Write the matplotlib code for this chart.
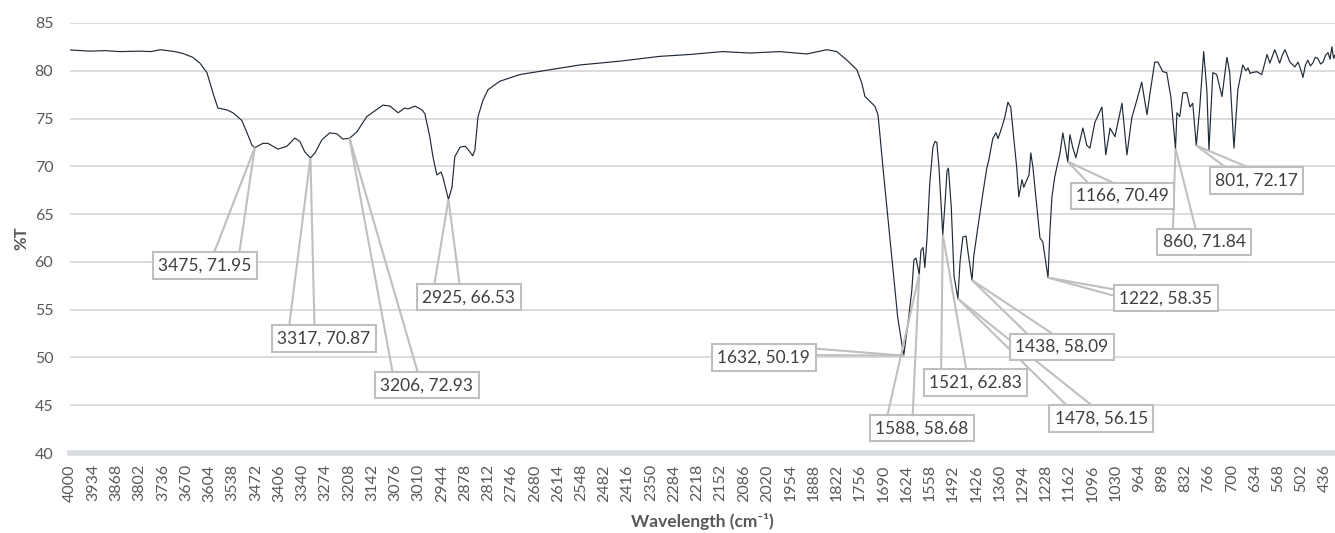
import matplotlib.pyplot as plt

plt.rcParams['font.family'] = ['Lato', 'DejaVu Sans']

# spectrum (wavenumber cm-1, %T)
wavenumber = [4000, 3943, 3900, 3858, 3801, 3770, 3744, 3702, 3679, 3651, 3631, 3611, 3594, 3580, 3554, 3537,
              3512, 3497, 3483, 3475, 3452, 3438, 3409, 3384, 3361, 3347, 3333, 3317, 3304, 3284,
              3262, 3242, 3225, 3206, 3185, 3157, 3111, 3091, 3068, 3049, 3040, 3020, 3000, 2992,
              2978, 2969, 2958, 2946, 2941, 2925, 2915, 2907, 2892, 2878, 2870, 2856, 2850, 2841,
              2827, 2813, 2779, 2722, 2637, 2552, 2438, 2325, 2239, 2146, 2069, 1984, 1907, 1850,
              1822, 1793, 1765, 1751, 1742, 1728, 1714, 1705, 1700, 1691, 1677, 1663, 1649, 1632,
              1620, 1609, 1603, 1597, 1588, 1583, 1577, 1572, 1566, 1558, 1549, 1543, 1538, 1532,
              1521, 1514, 1509, 1505, 1497, 1489, 1478, 1472, 1464, 1455, 1450, 1438, 1433, 1421,
              1407, 1396, 1390, 1379, 1370, 1364, 1353, 1345, 1336, 1328, 1319, 1311, 1305, 1296,
              1291, 1282, 1276, 1271, 1265, 1254, 1245, 1237, 1222, 1217, 1211, 1203, 1188, 1180,
              1166, 1160, 1152, 1143, 1123, 1112, 1103, 1089, 1069, 1058, 1046, 1032, 1012, 998,
              984, 970, 956, 941, 933, 919, 910, 896, 885, 873, 860, 856, 848, 839, 828, 819, 811,
              801, 791, 780, 771, 765, 754, 743, 728, 714, 706, 694, 683, 669, 660, 654, 648, 643, 629, 615,
              600, 592, 578, 564, 557, 549, 535, 521, 512, 505, 498, 491, 484, 477, 470, 463, 456, 448,
              441, 434, 427, 421, 416, 411, 407]
transmittance = [82.17, 82.05, 82.1, 82.0, 82.05, 82.0, 82.2, 82.0, 81.8, 81.4, 80.8, 79.8, 77.7, 76.1, 75.9, 75.6,
                 74.8, 73.5, 72.2, 71.95, 72.4, 72.4, 71.8, 72.1, 72.95, 72.6, 71.5, 70.87, 71.4, 72.8,
                 73.5, 73.4, 72.85, 72.93, 73.6, 75.2, 76.4, 76.3, 75.6, 76.1, 76.0, 76.3, 75.9, 75.5,
                 73.1, 71.0, 69.1, 69.4, 68.9, 66.53, 67.8, 71.0, 72.0, 72.1, 71.8, 71.1, 71.7, 75.2,
                 76.9, 78.0, 78.9, 79.6, 80.1, 80.6, 81.0, 81.5, 81.7, 82.0, 81.85, 82.0, 81.75, 82.2,
                 82.0, 81.1, 80.1, 78.7, 77.3, 76.8, 76.3, 75.4, 73.5, 69.9, 64.7, 59.5, 54.2, 50.19,
                 53.5, 57.0, 60.2, 60.4, 58.68, 61.2, 61.5, 59.4, 62.3, 68.2, 72.0, 72.6, 72.5, 70.0,
                 62.83, 66.5, 69.5, 69.8, 65.8, 58.5, 56.15, 60.0, 62.6, 62.7, 61.2, 58.09, 60.6, 63.7,
                 67.2, 69.8, 70.7, 72.9, 73.5, 72.9, 74.1, 75.1, 76.7, 76.2, 72.8, 69.9, 66.8, 68.6,
                 67.8, 68.6, 69.1, 71.4, 69.9, 65.8, 62.5, 62.1, 58.35, 63.0, 66.8, 68.9, 71.4, 73.5,
                 70.49, 73.3, 72.0, 70.9, 74.0, 72.2, 71.9, 74.6, 76.2, 71.2, 74.0, 73.1, 76.6, 71.2,
                 75.1, 76.9, 78.8, 75.4, 77.5, 80.9, 80.9, 79.9, 79.8, 77.2, 71.84, 75.6, 75.2, 77.7, 77.7, 76.2, 76.6,
                 72.17, 76.2, 82.0, 78.0, 71.7, 79.8, 79.6, 77.3, 81.4, 79.8, 71.9, 78.0, 80.6, 80.0, 80.3, 79.7, 79.8, 79.9, 79.6,
                 81.7, 80.8, 82.2, 80.8, 81.6, 82.2, 80.9, 80.4, 80.9, 80.2, 79.3, 80.6, 81.1, 80.5, 80.8, 81.4, 81.3, 80.7,
                 80.9, 81.6, 81.9, 81.2, 82.5, 81.3, 81.65]

# labelled peaks
peak_wn = [3475, 3317, 3206, 2925, 1632, 1588, 1521, 1478, 1438, 1222, 1166, 860, 801]
peak_t = [71.95, 70.87, 72.93, 66.53, 50.19, 58.68, 62.83, 56.15, 58.09, 58.35, 70.49, 71.84, 72.17]
# where each callout box sits
label_pos = [(3617, 59.6), (3279, 52.0), (2986, 47.1), (2867, 56.3), (2029, 50.0), (1580, 42.6),
             (1428, 47.4), (1071, 43.6), (1183, 51.1), (887, 56.2), (1011, 66.9), (779, 62.1), (629, 68.5)]

xticks = list(range(4000, 400, -66))
grey = '#BFBFBF'

fig = plt.figure(figsize=(13.35, 5.33), dpi=100)
ax = fig.add_axes([0.0524, 0.150, 0.9476, 0.807])

ax.plot(wavenumber, transmittance, color='#1F2A36', lw=0.85, zorder=3)

ax.set_xlim(4000, 407)
ax.set_ylim(40, 85)

texts = []
for wn, t, (lx, ly) in zip(peak_wn, peak_t, label_pos):
    txt = ax.text(lx, ly, f'{wn}, {t:.2f}', ha='center', va='center', fontsize=12.5, color='#404040',
                  bbox=dict(boxstyle='square,pad=0.3', fc='white', ec=grey, lw=1.5), zorder=5)
    texts.append(txt)

# callout wedges, Excel style: two leader lines from the box edge to the point
fig.canvas.draw()
inv = ax.transData.inverted()
for txt, wn, t in zip(texts, peak_wn, peak_t):
    bb = txt.get_bbox_patch().get_window_extent()
    px, py = ax.transData.transform((wn, t))
    cx, cy = (bb.x0 + bb.x1) / 2, (bb.y0 + bb.y1) / 2
    dx = (px - cx) / (bb.width / 2)
    dy = (py - cy) / (bb.height / 2)
    if abs(dy) >= abs(dx):
        ey = bb.y1 if dy > 0 else bb.y0
        if px < cx:
            a, b = bb.x0 + 0.167 * bb.width, bb.x0 + 0.41 * bb.width
        else:
            a, b = bb.x1 - 0.41 * bb.width, bb.x1 - 0.167 * bb.width
        base = [(a, ey), (b, ey)]
    else:
        ex = bb.x1 if dx > 0 else bb.x0
        if py > cy:
            a, b = bb.y1 - 0.167 * bb.height, bb.y1 - 0.41 * bb.height
        else:
            a, b = bb.y0 + 0.41 * bb.height, bb.y0 + 0.167 * bb.height
        base = [(ex, a), (ex, b)]
    for bx, by in base:
        (x0, y0), (x1, y1) = inv.transform([(bx, by), (px, py)])
        ax.plot([x0, x1], [y0, y1], color=grey, lw=1.5, zorder=4, solid_capstyle='butt')

ax.set_xticks(xticks)
ax.set_xticklabels([str(v) for v in xticks], rotation=90, fontsize=11.5, color='#595959')
ax.set_yticks(range(40, 90, 5))
ax.set_yticklabels([str(v) for v in range(40, 90, 5)], fontsize=11.5, color='#595959')
ax.tick_params(length=0, pad=12, axis='y')
ax.tick_params(length=0, pad=8, axis='x')
ax.grid(axis='y', color='#D9D9D9', lw=1.3)
ax.grid(axis='x', visible=False)
ax.axhline(40, color='#D9DCE1', lw=4, clip_on=False, zorder=2)
for s in ax.spines.values():
    s.set_visible(False)

ax.set_xlabel('Wavelength (cm\u207b\u00b9)', fontsize=12.5, fontweight='bold', color='#595959', labelpad=8)
ax.set_ylabel('%T', fontsize=12, fontweight='bold', color='#595959', labelpad=4)

fig.savefig('out.png', dpi=100)
